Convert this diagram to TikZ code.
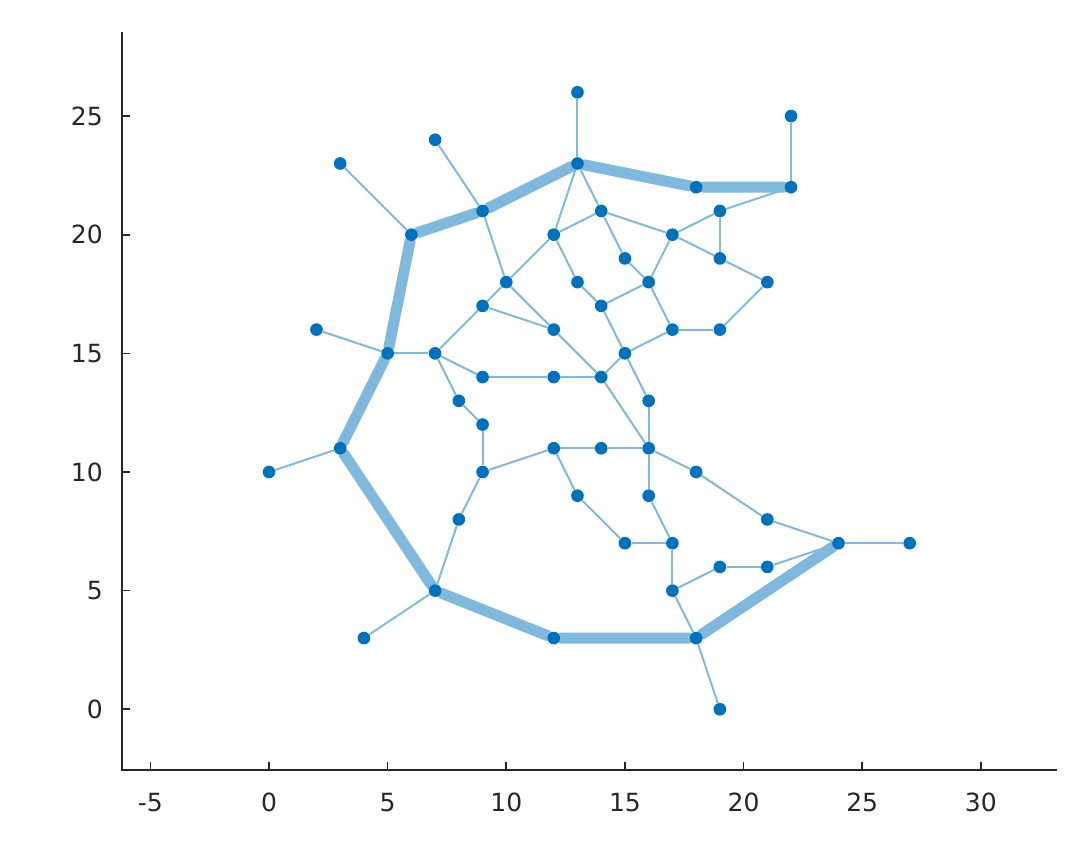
\documentclass[tikz,border=0pt]{standalone}
\usepackage{fontspec}
\setmainfont{DejaVu Sans}
\usetikzlibrary{backgrounds}
\definecolor{dotblue}{RGB}{0,114,189}
\definecolor{lineblue}{RGB}{128,185,222}
\definecolor{axisgray}{RGB}{38,38,38}
\tikzset{vert/.style={circle,fill=dotblue,inner sep=0pt,minimum size=7.6pt},
  link/.style={lineblue,line width=1.2pt},
  route/.style={lineblue,line width=6.6pt,line join=round,line cap=round},
  ticklab/.style={font=\fontsize{15}{15}\selectfont,text=axisgray,inner sep=0pt}}

\begin{document}
\begin{tikzpicture}[x=0.5cm,y=0.5cm]
    \useasboundingbox (-11.336,-5.818) rectangle (34.008,29.89);
    % axes
    \coordinate (ytop) at (-6.195,28.54);
    \coordinate (corner) at (-6.195,-2.572);
    \coordinate (xend) at (33.21,-2.572);
    \draw[axisgray,line width=1.2pt] (ytop) -- (corner) -- (xend);
    \foreach \t in {-5,0,...,30}
        \draw[axisgray,line width=1pt] (\t,-2.572) -- ++(0,0.34) node[ticklab,pos=0,below=13pt] {\t};
    \foreach \t in {0,5,...,25}
        \draw[axisgray,line width=1pt] (-6.195,\t) -- ++(0.34,0) node[ticklab,pos=0,left=11pt] {\t};
    % vertices
    \foreach \a/\b in {13/26,22/25,7/24,3/23,13/23,18/22,22/22,9/21,14/21,19/21,
        6/20,12/20,17/20,15/19,19/19,10/18,13/18,16/18,21/18,9/17,14/17,2/16,
        12/16,17/16,19/16,5/15,7/15,15/15,9/14,12/14,14/14,8/13,16/13,9/12,
        3/11,12/11,14/11,16/11,0/10,9/10,18/10,13/9,16/9,8/8,21/8,15/7,17/7,
        24/7,27/7,19/6,21/6,7/5,17/5,4/3,12/3,18/3,19/0}
        \node[vert] (v\a-\b) at (\a,\b) {};
    \begin{scope}[on background layer]
        % shortest route
        \draw[route] (v24-7) -- (v18-3) -- (v12-3) -- (v7-5) -- (v3-11) -- (v5-15)
            -- (v6-20) -- (v9-21) -- (v13-23) -- (v18-22) -- (v22-22);
        % edges
        \foreach \p/\q in {13-26/13-23,22-25/22-22,7-24/9-21,3-23/6-20,13-23/12-20,
            13-23/14-21,14-21/12-20,14-21/17-20,14-21/15-19,15-19/16-18,17-20/16-18,
            17-20/19-21,19-21/22-22,19-21/19-19,17-20/19-19,19-19/21-18,21-18/19-16,
            19-16/17-16,17-16/16-18,16-18/14-17,14-17/13-18,13-18/12-20,12-20/10-18,
            9-21/10-18,10-18/9-17,10-18/12-16,9-17/12-16,2-16/5-15,5-15/7-15,
            7-15/9-17,7-15/9-14,7-15/8-13,8-13/9-12,9-12/9-10,9-14/12-14,
            12-14/14-14,12-16/14-14,14-14/16-11,14-14/15-15,15-15/17-16,
            15-15/14-17,15-15/16-13,16-13/16-11,9-10/12-11,12-11/14-11,
            14-11/16-11,12-11/13-9,16-11/16-9,16-11/18-10,18-10/21-8,21-8/24-7,
            16-9/17-7,13-9/15-7,15-7/17-7,17-7/17-5,17-5/19-6,19-6/21-6,
            21-6/24-7,24-7/27-7,9-10/8-8,8-8/7-5,7-5/4-3,17-5/18-3,18-3/19-0,
            0-10/3-11}
            \draw[link] (v\p) -- (v\q);
    \end{scope}
\end{tikzpicture}
\end{document}
